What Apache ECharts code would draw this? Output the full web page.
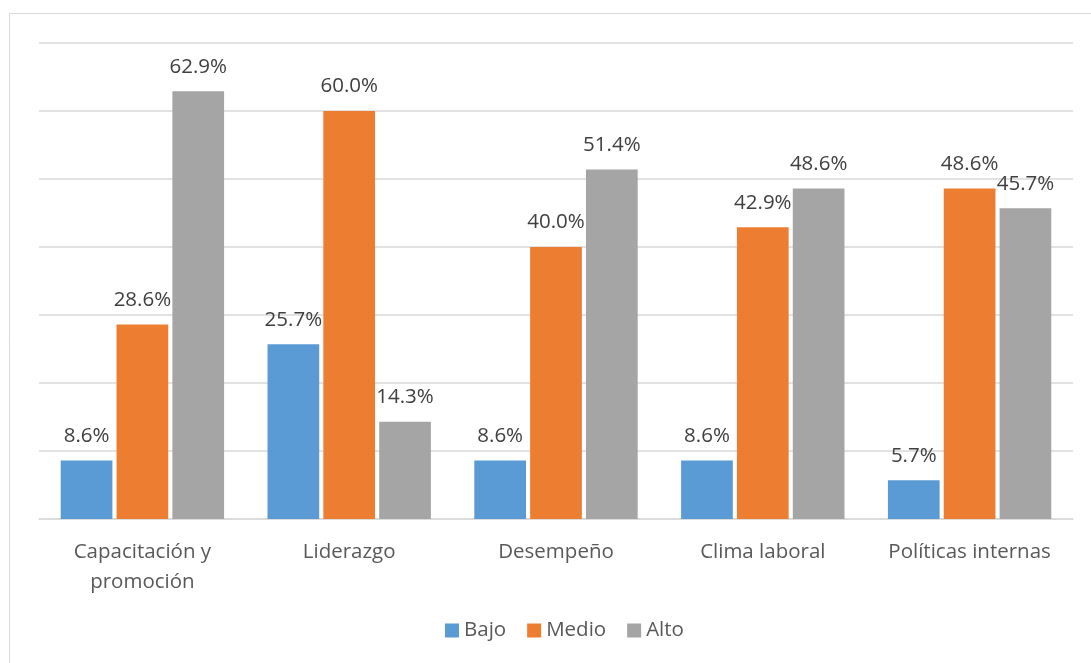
<!DOCTYPE html>
<html><head><meta charset="utf-8">
<script src="https://cdn.jsdelivr.net/npm/echarts@6/dist/echarts.min.js"></script>
<style>html,body{margin:0;padding:0;background:#fff}#c{width:1091px;height:663px}</style>
</head><body><div id="c"></div>
<script>
const categories = ["Capacitación y\npromoción", "Liderazgo", "Desempeño", "Clima laboral", "Políticas internas"];
const seriesNames = ["Bajo", "Medio", "Alto"];
const bajo = [8.6, 25.7, 8.6, 8.6, 5.7];
const medio = [28.6, 60.0, 40.0, 42.9, 48.6];
const alto = [62.9, 14.3, 51.4, 48.6, 45.7];
const colors = ["#5B9BD5", "#ED7D31", "#A5A5A5"];
const FONT = "'Open Sans', 'Noto Sans', sans-serif";

const chart = echarts.init(document.getElementById('c'), null, {renderer: 'canvas'});
const mk = (name, data, color) => ({
  name, type: 'bar', data,
  barGap: '8%', barCategoryGap: '21%',
  itemStyle: {color},
  label: {show: true, position: 'top', distance: 14, formatter: p => p.value.toFixed(1) + '%',
    color: '#404040', fontSize: 20.5, fontFamily: FONT},
  emphasis: {disabled: true}
});
chart.setOption({
  animation: false,
  graphic: [{type: 'rect', shape: {x: 9.5, y: 13.5, width: 1200, height: 700},
    style: {fill: 'none', stroke: '#d9d9d9', lineWidth: 1}, silent: true, z: -1}],
  grid: {left: 39, right: 18, top: 43, bottom: 144},
  legend: {bottom: 17, left: 440, itemWidth: 14, itemHeight: 14, itemGap: 21,
    icon: 'rect', textStyle: {color: '#595959', fontSize: 20.5, fontFamily: FONT},
    data: seriesNames},
  xAxis: {type: 'category', data: categories,
    axisLine: {lineStyle: {color: '#d9d9d9', width: 1.5}}, axisTick: {show: false},
    axisLabel: {color: '#595959', fontSize: 20.5, fontFamily: FONT, margin: 18, lineHeight: 30, interval: 0}},
  yAxis: {type: 'value', min: 0, max: 70, interval: 10,
    axisLabel: {show: false}, axisLine: {show: false}, axisTick: {show: false},
    splitLine: {lineStyle: {color: '#d9d9d9', width: 1.5}}},
  series: [mk(seriesNames[0], bajo, colors[0]), mk(seriesNames[1], medio, colors[1]), mk(seriesNames[2], alto, colors[2])]
});
</script></body></html>
